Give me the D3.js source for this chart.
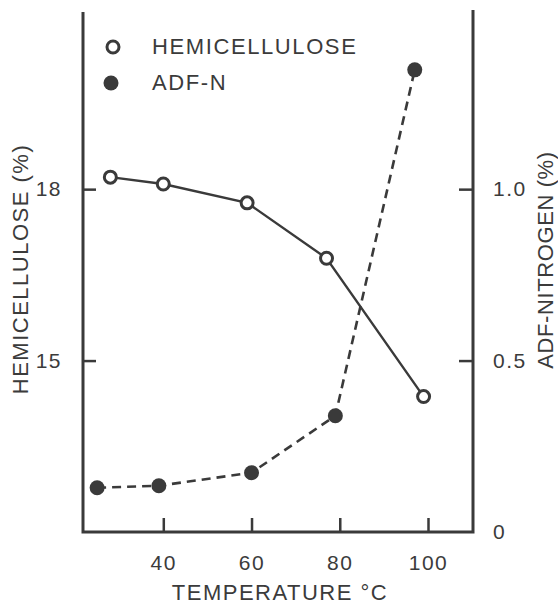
<!DOCTYPE html>
<html>
<head>
<meta charset="UTF-8">
<title>Hemicellulose and ADF-N vs temperature</title>
<script src="https://cdn.jsdelivr.net/npm/d3@7/dist/d3.min.js"></script>
<style>
	body { margin: 0; background: #fff; }
	text { font-family: "Liberation Sans", Arial, sans-serif; fill: #3b3b3b; }
</style>
</head>
<body>
	<div id="chart"></div>
	<script type="text/javascript">
		// values
		var hemiTemp = [28, 40, 59, 77, 99];
		var hemiValue = [18.21, 18.09, 17.76, 16.79, 14.37];
		var adfTemp = [25, 39, 60, 79, 97];
		var adfValue = [0.129, 0.135, 0.173, 0.339, 1.348];

		var xTicks = [40, 60, 80, 100];
		var leftTicks = [15, 18];
		var rightTicks = [0, 0.5, 1.0];
		var rightTickLabels = ["0", "0.5", "1.0"];
		var legendNames = ["HEMICELLULOSE", "ADF-N"];

		var hemi = hemiTemp.map(function(t, i) { return { t: t, v: hemiValue[i] }; });
		var adf = adfTemp.map(function(t, i) { return { t: t, v: adfValue[i] }; });

		var ink = "#3a3a3a";
		// plot box (note: "top" is reserved on window, so prefix these)
		var plotL = 83, plotR = 473, plotT = 12, plotB = 532;

		var svg = d3.select("#chart").append("svg").attr("width", 558).attr("height", 610);

		var x = d3.scaleLinear().domain([21.8, 110.2]).range([ plotL, plotR ]);
		var yHemi = d3.scaleLinear().domain([12, 21.1]).range([ plotB, plotT ]);
		var yAdf = d3.scaleLinear().domain([0, 9.1 / 6]).range([ plotB, plotT ]);

		// axes (ticks point into the plot)
		var gx = svg.append("g").attr("transform", "translate(0," + plotB + ")")
			.call(d3.axisBottom(x).tickValues(xTicks).tickSize(-14).tickPadding(23).tickSizeOuter(0));
		var gl = svg.append("g").attr("transform", "translate(" + plotL + ",0)")
			.call(d3.axisLeft(yHemi).tickValues(leftTicks).tickSize(-13).tickPadding(21).tickSizeOuter(0));
		var gr = svg.append("g").attr("transform", "translate(" + plotR + ",0)")
			.call(d3.axisRight(yAdf).tickValues(rightTicks).tickSize(-14).tickPadding(20).tickSizeOuter(0)
				.tickFormat(function(d, i) { return rightTickLabels[i]; }));

		[gx, gl, gr].forEach(function(g) {
			g.select(".domain").remove();
			g.selectAll(".tick line").attr("stroke", ink).attr("stroke-width", 2.5);
			g.selectAll(".tick text").attr("fill", "#3b3b3b").style("font-size", "21px").style("letter-spacing", "1.5px")
				.style("font-family", "'Liberation Sans', Arial, sans-serif");
		});
		gr.selectAll(".tick").filter(function(d) { return d === 0; }).select("line").remove();

		// frame: left, bottom, right axis lines
		svg.append("path")
			.attr("d", "M" + plotL + "," + plotT + "V" + plotB + "H" + plotR + "V" + (plotT - 2))
			.attr("fill", "none").attr("stroke", ink).attr("stroke-width", 3).attr("stroke-linejoin", "miter");

		// series lines
		svg.append("path").datum(adf).attr("fill", "none").attr("stroke", ink).attr("stroke-width", 2.6)
			.attr("stroke-dasharray", "9,6")
			.attr("d", d3.line().x(function(d) { return x(d.t); }).y(function(d) { return yAdf(d.v); }));

		svg.append("path").datum(hemi).attr("fill", "none").attr("stroke", ink).attr("stroke-width", 2.4)
			.attr("d", d3.line().x(function(d) { return x(d.t); }).y(function(d) { return yHemi(d.v); }));

		svg.selectAll(".adf").data(adf).enter().append("circle").attr("class", "adf")
			.attr("cx", function(d) { return x(d.t); }).attr("cy", function(d) { return yAdf(d.v); })
			.attr("r", 7.5).attr("fill", ink);

		svg.selectAll(".hemi").data(hemi).enter().append("circle").attr("class", "hemi")
			.attr("cx", function(d) { return x(d.t); }).attr("cy", function(d) { return yHemi(d.v); })
			.attr("r", 6).attr("fill", "#fff").attr("stroke", ink).attr("stroke-width", 3);

		// legend
		svg.append("circle").attr("cx", 113).attr("cy", 47).attr("r", 6).attr("fill", "#fff").attr("stroke", ink).attr("stroke-width", 3);
		svg.append("circle").attr("cx", 111).attr("cy", 83).attr("r", 7.5).attr("fill", ink);
		svg.selectAll(".leg").data(legendNames).enter().append("text").attr("class", "leg")
			.attr("x", 152).attr("y", function(d, i) { return 46 + i * 36; }).attr("dy", "0.36em")
			.style("font-size", "22px").style("letter-spacing", "1.6px").text(function(d) { return d; });

		// axis titles
		svg.append("text").attr("x", 280).attr("y", 592).attr("dy", "0.36em").attr("text-anchor", "middle")
			.style("font-size", "22px").style("letter-spacing", "1.5px").text("TEMPERATURE °C");
		svg.append("text").attr("transform", "translate(20,269) rotate(-90)").attr("dy", "0.36em").attr("text-anchor", "middle")
			.style("font-size", "22px").style("letter-spacing", "1.5px").text("HEMICELLULOSE (%)");
		svg.append("text").attr("transform", "translate(545,260) rotate(-90)").attr("dy", "0.36em").attr("text-anchor", "middle")
			.style("font-size", "22px").style("letter-spacing", "0.6px").text("ADF-NITROGEN (%)");
	</script>
</body>
</html>
